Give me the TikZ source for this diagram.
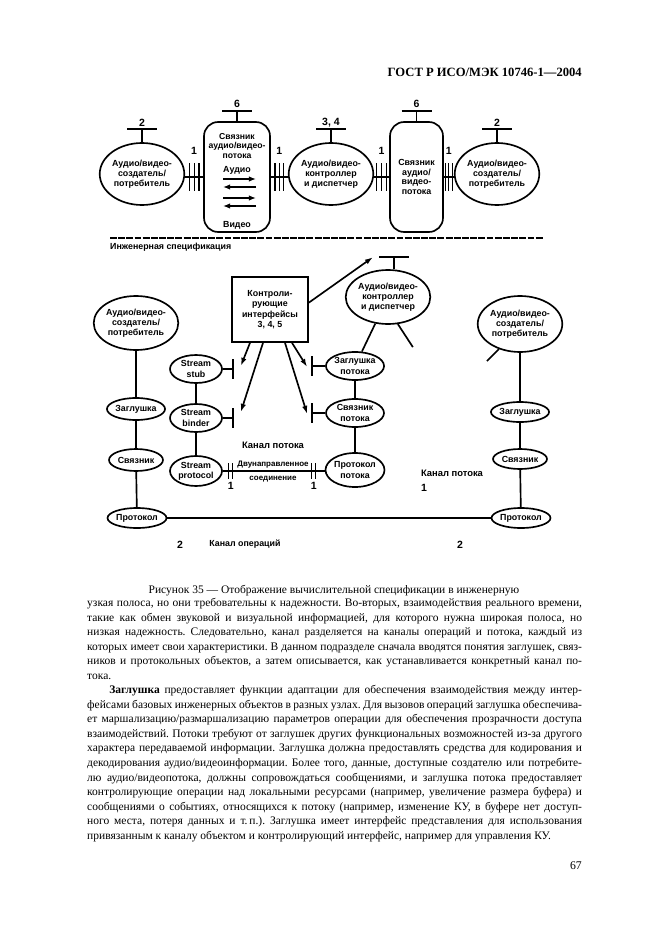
\documentclass[tikz,border=0pt]{standalone}
\usepackage{fontspec}
\setmainfont{Liberation Serif}
\newfontfamily\schemefont{Liberation Sans}
\usetikzlibrary{arrows.meta,calc,shapes.geometric}

\tikzset{
  schem/.style={font=\schemefont\bfseries\fontsize{8}{9.3}\selectfont, align=center, inner sep=0pt},
  num/.style={font=\schemefont\bfseries\fontsize{9.5}{10}\selectfont, inner sep=0pt},
  dims/.style 2 args={minimum width={#1*0.3177mm}, minimum height={#2*0.3177mm}},
  bubble/.style={schem, draw, line width=1.5pt, ellipse},
  roundbox/.style={schem, draw, line width=1.5pt, rounded corners=4.5mm},
  ctrlbox/.style={schem, draw, line width=1.5pt},
  wire/.style={line width=1.5pt},
  feed/.style={line width=1.5pt, -{Latex[length=2.6mm,width=1.7mm]}},
  flow/.style={line width=1.8pt, -{Latex[length=2.3mm,width=1.8mm]}},
  pics/tbar/.style={code={\draw[wire] (-15,0) -- (15,0);}},
  pics/vbar/.style={code={\draw[wire] (0,-10) -- (0,10);}},
  pics/ticks/.style={code={\foreach \k in {-#1,0,#1} \draw[line width=1.1pt] (\k,-14) -- (\k,14);}},
  pics/dticks/.style={code={\foreach \k in {-2,2} \draw[line width=1.1pt] (\k,-8) -- (\k,8);}},
}

\begin{document}
\begin{tikzpicture}[x=0.3177mm,y=-0.3177mm]
  \fill[white] (0,0) rectangle (661,936);
  \useasboundingbox (0,0) rectangle (661,936);

  %%%%% HEADER %%%%%
  \node[font=\bfseries\fontsize{11.4}{13}\selectfont, anchor=east, inner sep=0pt] (hdr) at (582,72) {ГОСТ Р ИСО/МЭК 10746-1—2004};

  %%%%% COMPUTATIONAL VIEW %%%%%
  \node[bubble, dims={82}{62}] (avA) at (142,174) {Аудио/видео-\\создатель/\\потребитель};
  \node[roundbox, dims={66}{110}] (lnkA) at (237,177) {};
  \node[bubble, dims={78}{62}] (avB) at (331,174) {Аудио/видео-\\контроллер\\и диспетчер};
  \node[roundbox, dims={53}{110}, font=\schemefont\bfseries\fontsize{8}{8.6}\selectfont] (lnkB) at (416.5,177) {Связник\\аудио/\\видео-\\потока};
  \node[bubble, dims={78}{62}] (avC) at (497,174) {Аудио/видео-\\создатель/\\потребитель};

  \node[schem, font=\schemefont\bfseries\fontsize{7.8}{8.6}\selectfont] (lnkAt) at (237,146) {Связник\\аудио/видео-\\потока};
  \node[schem] (audio) at (237,170) {Аудио};
  \node[schem] (video) at (237,225) {Видео};
  \draw[flow] (223,179) -- (256,179);
  \draw[flow] (256,187) -- (223,187);
  \draw[flow] (223,198) -- (256,198);
  \draw[flow] (256,206) -- (223,206);

  % interfaces 1
  \draw[wire] (avA.east |- lnkA.west) -- (lnkA.west);
  \draw[wire] (lnkA.east) -- (avB.west |- lnkA.east);
  \draw[wire] (avB.east |- lnkB.west) -- (lnkB.west);
  \draw[wire] (lnkB.east) -- (avC.west |- lnkB.east);
  \foreach \a/\b/\g in {avA/lnkA/4.8, lnkA/avB/4.3, avB/lnkB/4.8, lnkB/avC/3.3}{
    \coordinate (m) at ($(\a.east |- lnkA.west)!0.5!(\b.west |- lnkA.west)$);
    \pic at (m) {ticks=\g};
    \node[num] at ($(m)+(0,-26)$) {1};
  }

  % control interfaces
  \foreach \n/\t in {avA/2, avB/{3, 4}, avC/2}{
    \draw[wire] (\n.north) -- ++(0,-13) coordinate (t);
    \pic at (t) {tbar};
    \node[num, anchor=south] at ($(t)+(0,-2)$) {\t};
  }
  \foreach \n in {lnkA, lnkB}{
    \draw[wire] (\n.north) -- ++(0,-10) coordinate (t);
    \pic at (t) {tbar};
    \node[num, anchor=south] at ($(t)+(0,-3)$) {6};
  }

  %%%%% ENGINEERING VIEW %%%%%
  \draw[line width=2.2pt, dash pattern=on 6.2pt off 1.2pt] (110,238) -- (543,238);
  \node[schem, anchor=west] (eng) at (110,247) {Инженерная спецификация};

  \node[bubble, dims={74}{54}] (avD) at (136,323) {Аудио/видео-\\создатель/\\потребитель};
  \node[ctrlbox, dims={76}{65}] (ctl) at (270,309.5) {Контроли-\\рующие\\интерфейсы\\3, 4, 5};
  \node[bubble, dims={80}{54}] (avE) at (388,297) {Аудио/видео-\\контроллер\\и диспетчер};
  \node[bubble, dims={66}{56}] (avF) at (520,324) {Аудио/видео-\\создатель/\\потребитель};

  \node[bubble, dims={52}{28}] (sstub) at (196,369) {Stream\\stub};
  \node[bubble, dims={52}{28}] (sbind) at (196,418) {Stream\\binder};
  \node[bubble, dims={52}{30}] (sprot) at (196,471) {Stream\\protocol};
  \node[bubble, dims={58}{28}] (fstub) at (355,366) {Заглушка\\потока};
  \node[bubble, dims={58}{28}] (flink) at (355,413) {Связник\\потока};
  \node[bubble, dims={58}{34}] (fprot) at (355,470) {Протокол\\потока};

  \node[bubble, dims={54}{22}] (stubL) at (136,409) {Заглушка};
  \node[bubble, dims={54}{22}] (linkL) at (136,460) {Связник};
  \node[bubble, dims={56}{20}] (protL) at (137,518) {Протокол};
  \node[bubble, dims={54}{20}] (stubR) at (520,412) {Заглушка};
  \node[bubble, dims={54}{20}] (linkR) at (520,459) {Связник};
  \node[bubble, dims={56}{20}] (protR) at (521,518) {Протокол};

  \draw[wire] (avD) -- (stubL) -- (linkL) -- (protL);
  \draw[wire] (avF) -- (stubR) -- (linkR) -- (protR);
  \draw[wire] (sstub) -- (sbind) -- (sprot);
  \draw[wire] (avE) -- (fstub) -- (flink) -- (fprot);
  \draw[wire] (protL) -- (protR);
  \draw[wire] (avE.-70) -- ++(15,23);
  \draw[wire] (avF.-130) -- ++(-12,12);

  % control interface of the controller
  \draw[wire] ($(avE.north)+(6,0)$) -- ++(0,-12) coordinate (tE);
  \pic at (tE) {tbar};
  \draw[feed] (ctl.10) -- ($(tE)+(-21,0)$);

  % control interfaces of the stream objects
  \draw[wire] (sstub.east) -- ++(10,0) coordinate (bS);
  \draw[wire] (sbind.east) -- ++(10,0) coordinate (bB);
  \draw[wire] (fstub.west) -- ++(-13,0) coordinate (bF);
  \draw[wire] (flink.west) -- ++(-13,0) coordinate (bL);
  \foreach \b in {bS, bB, bF, bL} \pic at (\b) {vbar};
  \draw[feed] ($(ctl.south)+(-20,0)$) -- ($(bS)+(8,-3)$);
  \draw[feed] ($(ctl.south)+(-7,0)$) -- ($(bB)+(8,-6)$);
  \draw[feed] ($(ctl.south)+(15,0)$) -- ($(bL)+(-5,1)$);
  \draw[feed] ($(ctl.south)+(22,0)$) -- ($(bF)+(-5,1)$);

  % stream channel
  \draw[wire] (sprot.east) -- (fprot.west |- sprot.east);
  \pic at ($(sprot.east)+(8,0)$) {dticks};
  \pic at ($(fprot.west |- sprot.east)+(-11,0)$) {dticks};
  \node[num] at ($(sprot.east)+(8,15)$) {1};
  \node[num] at ($(fprot.west |- sprot.east)+(-11,15)$) {1};
  \node[schem, font=\schemefont\bfseries\fontsize{7.2}{8}\selectfont] (bidir) at (273,465) {Двунаправленное};
  \node[schem, font=\schemefont\bfseries\fontsize{7.2}{8}\selectfont] (conn) at (273,479) {соединение};
  \node[schem, font=\schemefont\bfseries\fontsize{8.5}{9}\selectfont] (chA) at (273,445) {Канал потока};
  \node[schem, font=\schemefont\bfseries\fontsize{8.5}{9}\selectfont] (chB) at (452,473) {Канал потока};
  \node[num] at (424,488) {1};

  % operation channel
  \node[num] at (180,545) {2};
  \node[schem] (opch) at (245,544) {Канал операций};
  \node[num] at (460,545) {2};

  %%%%% CAPTION AND TEXT %%%%%
  \node[font=\fontsize{10.4}{12}\selectfont, inner sep=0pt] (cap) at (334,591) {Рисунок 35 — Отображение вычислительной спецификации в инженерную};

  \node[anchor=north west, text width=157.2mm, align=justify, inner sep=0pt,
        font=\fontsize{10.4}{13.15}\selectfont] (body) at (87,598) {%
  \frenchspacing\spaceskip=0.25em plus 0.3em minus 0.1em
  узкая полоса, но они требовательны к надежности. Во-вторых, взаимодействия реального времени, \linebreak
  такие как обмен звуковой и визуальной информацией, для которого нужна широкая полоса, но \linebreak
  низкая надежность. Следовательно, канал разделяется на каналы операций и потока, каждый из \linebreak
  которых имеет свои характеристики. В данном подразделе сначала вводятся понятия заглушек, связ-\linebreak
  ников и протокольных объектов, а затем описывается, как устанавливается конкретный канал по-\linebreak
  тока.\par
  \hspace*{7mm}\textbf{Заглушка} предоставляет функции адаптации для обеспечения взаимодействия между интер-\linebreak
  фейсами базовых инженерных объектов в разных узлах. Для вызовов операций заглушка обеспечива-\linebreak
  ет маршализацию/размаршализацию параметров операции для обеспечения прозрачности доступа \linebreak
  взаимодействий. Потоки требуют от заглушек других функциональных возможностей из-за другого \linebreak
  характера передаваемой информации. Заглушка должна предоставлять средства для кодирования и \linebreak
  декодирования аудио/видеоинформации. Более того, данные, доступные создателю или потребите-\linebreak
  лю аудио/видеопотока, должны сопровождаться сообщениями, и заглушка потока предоставляет \linebreak
  контролирующие операции над локальными ресурсами (например, увеличение размера буфера) и \linebreak
  сообщениями о событиях, относящихся к потоку (например, изменение КУ, в буфере нет доступ-\linebreak
  ного места, потеря данных и т.\,п.). Заглушка имеет интерфейс представления для использования \linebreak
  привязанным к каналу объектом и контролирующий интерфейс, например для управления КУ.};

  \node[font=\fontsize{10.6}{12}\selectfont, anchor=east, inner sep=0pt] (pageno) at (582,866) {67};
\end{tikzpicture}
\end{document}
